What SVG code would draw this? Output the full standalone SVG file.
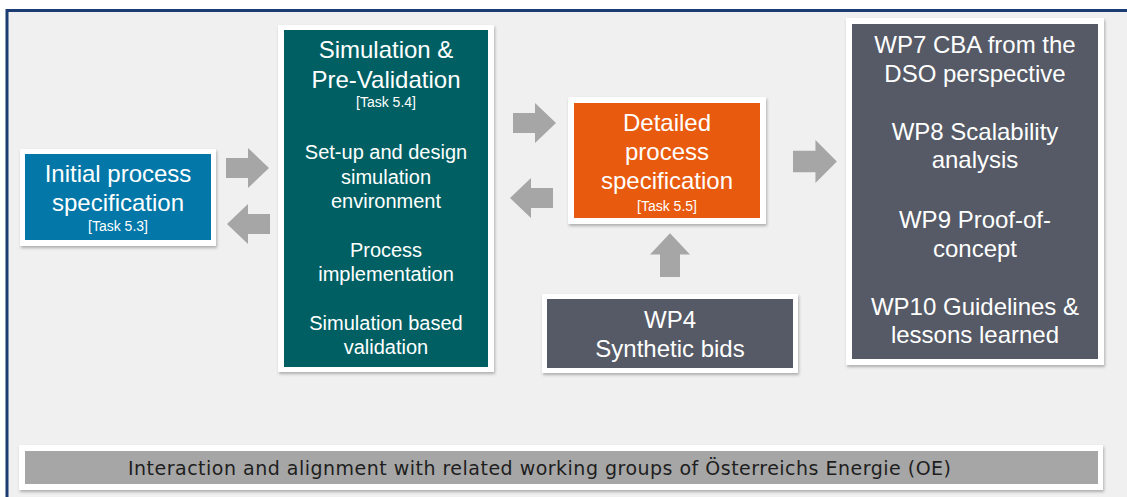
<svg xmlns="http://www.w3.org/2000/svg" width="1127" height="497" viewBox="0 0 1127 497">
  <defs>
    <filter id="shadow" x="-5%" y="-5%" width="115%" height="120%">
      <feDropShadow dx="1" dy="2" stdDeviation="1.5" flood-color="#000" flood-opacity="0.28"/>
    </filter>
    <!-- block arrow pointing right, anchored at its tail centre -->
    <path id="arrow" d="M0,-10 H22 V-20 L43,0 L22,20 V10 H0 Z"/>
  </defs>
  <style>
    .frame { fill: #ffffff; filter: url(#shadow); }
    .blue { fill: #0277a8; }
    .teal { fill: #005f63; }
    .orange { fill: #e85a0e; }
    .slate { fill: #555a66; }
    .bar { fill: #a6a6a6; }
    .arrow { fill: #a6a6a6; }
    text { font-family: "Liberation Sans", Arial, sans-serif; fill: #ffffff; text-anchor: middle; }
    .h { font-size: 24px; }
    .b { font-size: 20px; }
    .t { font-size: 14px; }
    .note { font-family: "DejaVu Sans", Verdana, sans-serif; font-size: 19px; fill: #1e1e1e; text-anchor: start; }
  </style>

  <!-- page background and frame -->
  <rect x="0" y="0" width="1127" height="497" fill="#ffffff"/>
  <rect x="7" y="10.5" width="1130" height="500" fill="#f0f0f0" stroke="#1c3d73" stroke-width="3"/>

  <!-- connectors -->
  <g id="connectors" class="arrow">
    <use href="#arrow" transform="translate(226,168)"/>
    <use href="#arrow" transform="translate(270,224) scale(-1,1)"/>
    <use href="#arrow" transform="translate(513,123)"/>
    <use href="#arrow" transform="translate(553,198) scale(-1,1)"/>
    <use href="#arrow" transform="translate(793,161.5) scale(1.02,1.07)"/>
    <use href="#arrow" transform="translate(670,277) rotate(-90) scale(1.02,1)"/>
  </g>

  <g id="initial-spec">
    <rect class="frame" x="20" y="149" width="196" height="97"/>
    <rect class="blue" x="25" y="154" width="186" height="86"/>
    <text class="h" x="118" y="182">Initial process</text>
    <text class="h" x="118" y="211">specification</text>
    <text class="t" x="118" y="231">[Task 5.3]</text>
  </g>

  <g id="simulation">
    <rect class="frame" x="278" y="25" width="216" height="347"/>
    <rect class="teal" x="284" y="30" width="204" height="337"/>
    <text class="h" x="386" y="58">Simulation &amp;</text>
    <text class="h" x="386" y="88">Pre-Validation</text>
    <text class="t" x="386" y="107">[Task 5.4]</text>
    <text class="b" x="386" y="159">Set-up and design</text>
    <text class="b" x="386" y="184">simulation</text>
    <text class="b" x="386" y="208">environment</text>
    <text class="b" x="386" y="257">Process</text>
    <text class="b" x="386" y="281">implementation</text>
    <text class="b" x="386" y="330">Simulation based</text>
    <text class="b" x="386" y="354">validation</text>
  </g>

  <g id="detailed-spec">
    <rect class="frame" x="568" y="97" width="198" height="127"/>
    <rect class="orange" x="574" y="103" width="186" height="115"/>
    <text class="h" x="667" y="131">Detailed</text>
    <text class="h" x="667" y="160">process</text>
    <text class="h" x="667" y="189">specification</text>
    <text class="t" x="667" y="211">[Task 5.5]</text>
  </g>

  <g id="wp4">
    <rect class="frame" x="542" y="294" width="256" height="79"/>
    <rect class="slate" x="547" y="299" width="246" height="69"/>
    <text class="h" x="670" y="328">WP4</text>
    <text class="h" x="670" y="357">Synthetic bids</text>
  </g>

  <g id="wp7-10">
    <rect class="frame" x="846" y="18" width="258" height="347"/>
    <rect class="slate" x="852" y="24" width="246" height="335"/>
    <text class="h" x="975" y="53">WP7 CBA from the</text>
    <text class="h" x="975" y="82">DSO perspective</text>
    <text class="h" x="975" y="140">WP8 Scalability</text>
    <text class="h" x="975" y="168">analysis</text>
    <text class="h" x="975" y="228">WP9 Proof-of-</text>
    <text class="h" x="975" y="257">concept</text>
    <text class="h" x="975" y="315">WP10 Guidelines &amp;</text>
    <text class="h" x="975" y="343">lessons learned</text>
  </g>

  <g id="oe-alignment">
    <rect class="frame" x="19" y="445" width="1084" height="45"/>
    <rect class="bar" x="25" y="451" width="1073" height="33"/>
    <text class="note" x="128" y="474.5" textLength="823" lengthAdjust="spacing">Interaction and alignment with related working groups of Österreichs Energie (OE)</text>
  </g>
</svg>
